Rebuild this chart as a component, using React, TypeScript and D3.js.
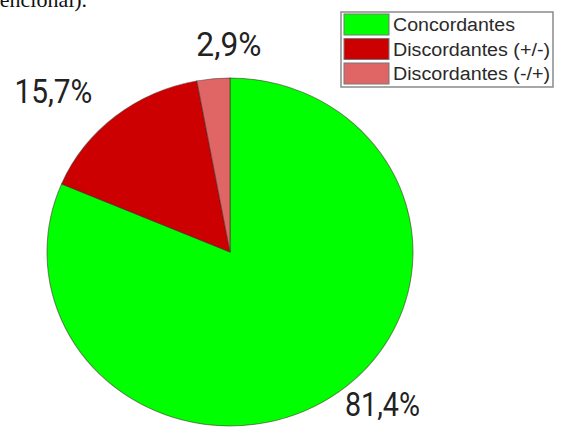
import React from "react";
import * as d3 from "d3";

const categories = ["Concordantes", "Discordantes (+/-)", "Discordantes (-/+)"];
const values = [81.4, 15.7, 2.9];
const valueLabels = ["81,4%", "15,7%", "2,9%"];
const colors = ["#00ff00", "#cc0000", "#e06666"];

const W = 566;
const H = 428;
const cx = 230;
const cy = 252;
const ry = 174;
const rx = 183;

// label placement (angle in degrees from 12 o'clock, radial factor, width)
const labelLayout = [
  { angle: 136.5, r: 1.21, len: 75, dy: 11 },
  { angle: 313.5, r: 1.33, len: 78, dy: 10 },
  { angle: 359.7, r: 1.19, len: 65, dy: 11 },
];
const legendTextLen = [122, 157, 157];

export default function App() {
  const pie = d3
    .pie<number>()
    .sort(null)
    .value((d) => d)
    .startAngle(0)
    .endAngle(2 * Math.PI);
  const arcs = pie(values);
  const arc = d3.arc<d3.PieArcDatum<number>>().innerRadius(0).outerRadius(ry);
  const sx = rx / ry;

  return (
    <svg
      width={W}
      height={H}
      style={{ position: "absolute", left: 0, top: 0, background: "#fff" }}
    >
      <text
        x={-43}
        y={7}
        fontFamily="Liberation Serif"
        fontSize={22}
        fill="#111"
      >
        convencional).
      </text>
      <g transform={`translate(${cx},${cy}) scale(${sx},1)`}>
        {arcs.map((a, i) => (
          <path
            key={i}
            d={arc(a) || ""}
            fill={colors[i]}
            stroke="rgba(70,40,40,0.55)"
            strokeWidth={1}
          />
        ))}
      </g>
      {arcs.map((a, i) => {
        const L = labelLayout[i];
        const t = (L.angle * Math.PI) / 180;
        const x = cx + Math.sin(t) * ry * L.r * sx;
        const y = cy - Math.cos(t) * ry * L.r + L.dy;
        return (
          <text
            key={i}
            x={x}
            y={y}
            textAnchor="middle"
            fontFamily="Roboto"
            fontSize={33}
            fill="#222"
            textLength={L.len}
            lengthAdjust="spacingAndGlyphs"
          >
            {valueLabels[i]}
          </text>
        );
      })}
      <g transform="translate(341,12)">
        <rect
          x={0}
          y={0}
          width={212}
          height={75}
          fill="#fff"
          stroke="#8a8a8a"
          strokeWidth={1.5}
        />
        {categories.map((c, i) => (
          <g key={c} transform={`translate(0,${i * 24.5})`}>
            <rect
              x={3}
              y={2}
              width={45}
              height={21}
              fill={colors[i]}
              stroke="#777"
              strokeWidth={1}
            />
            <text
              x={52}
              y={19}
              fontFamily="Liberation Sans"
              fontSize={18}
              fill="#2a2a2a"
              textLength={legendTextLen[i]}
              lengthAdjust="spacingAndGlyphs"
            >
              {c}
            </text>
          </g>
        ))}
      </g>
    </svg>
  );
}
